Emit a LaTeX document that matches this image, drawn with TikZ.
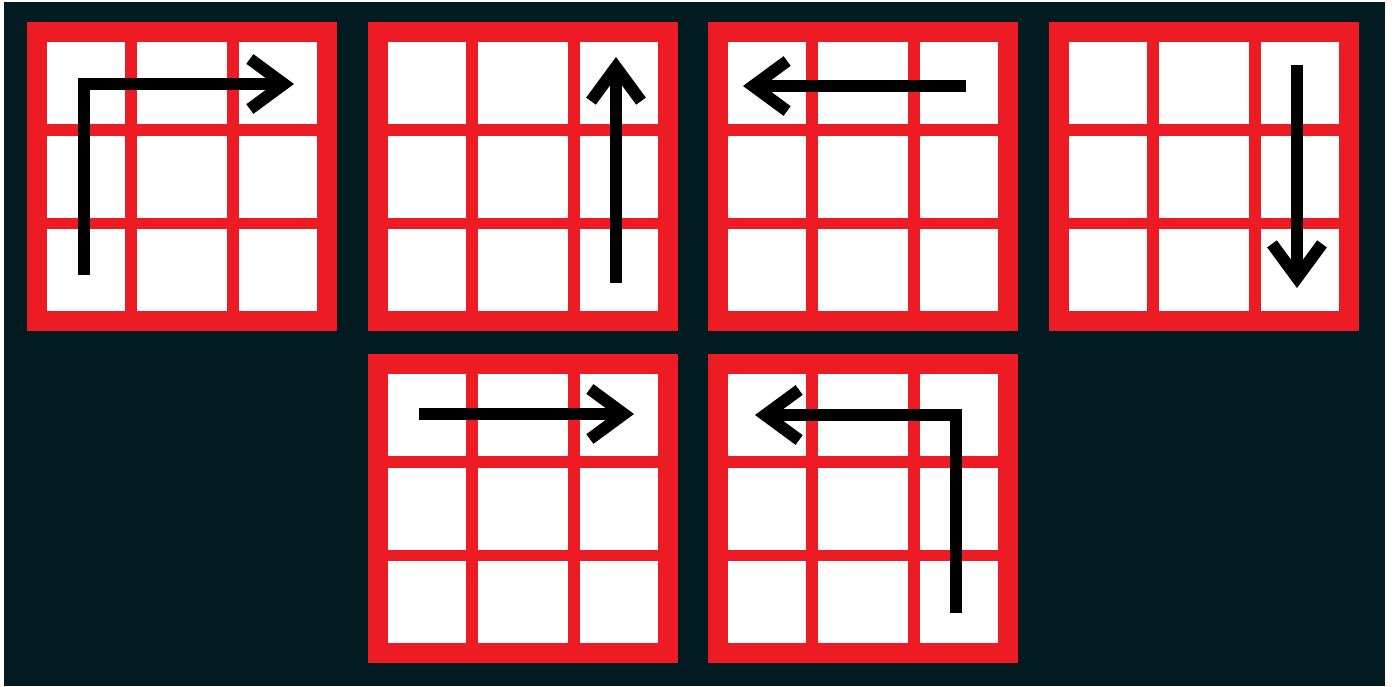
\documentclass[tikz,border=0pt]{standalone}
\usetikzlibrary{arrows.meta}
\definecolor{bgdark}{RGB}{2,27,33}
\definecolor{gridred}{RGB}{237,28,36}

\begin{document}
\begin{tikzpicture}[x=1pt,y=-1pt,
 cell/.style={fill=white},
 move/.style={line width=12pt,line join=miter,-{Straight Barb[length=34pt,width=50pt]}}]
\useasboundingbox (0,0) rectangle (1397,686);
\fill[bgdark] (4,2) rectangle (1385,686);
% the six 3x3 grids
\foreach \gx/\gy in {27/22,368/22,708/22,1049/22,368/354,708/354}{
 \begin{scope}[shift={(\gx,\gy)}]
 \fill[gridred] (0,0) rectangle (310,309);
 \foreach \cx/\cw in {20/78,110/90,212/78}
  \foreach \cy in {20,114,207}
   \fill[cell] (\cx,\cy) rectangle ++(\cw,82);
 \end{scope}}
% arrow end points
\coordinate (s1) at (84,275);   \coordinate (t1) at (294,84);
\coordinate (s2) at (616,283);  \coordinate (t2) at (616,57);
\coordinate (s3) at (966,86);   \coordinate (t3) at (743,86);
\coordinate (s4) at (1297,65);  \coordinate (t4) at (1297,288);
\coordinate (s5) at (419,414);  \coordinate (t5) at (634,414);
\coordinate (s6) at (956,613);  \coordinate (t6) at (755,415);
% moves
\draw[move] (s1) |- (t1);
\draw[move] (s2) -- (t2);
\draw[move] (s3) -- (t3);
\draw[move] (s4) -- (t4);
\draw[move] (s5) -- (t5);
\draw[move] (s6) |- (t6);
\end{tikzpicture}
\end{document}
